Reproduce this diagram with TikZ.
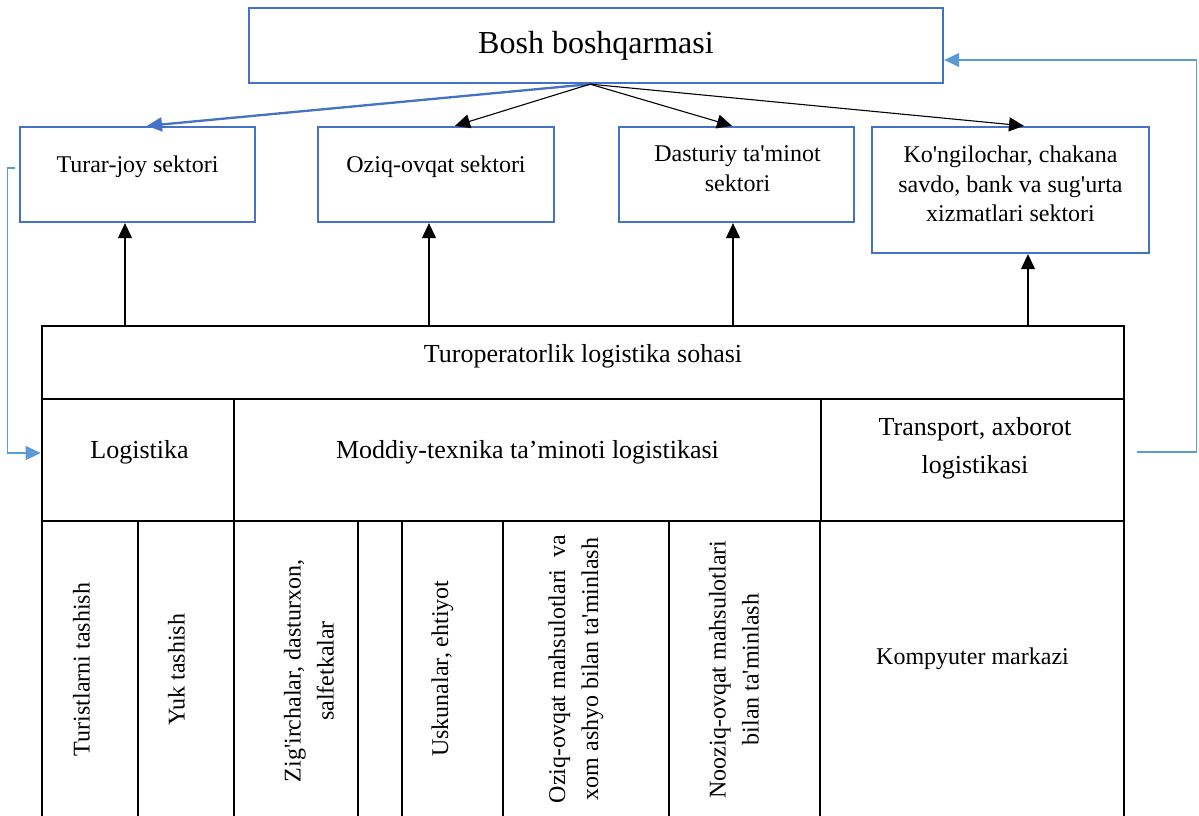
\documentclass[tikz,border=0pt]{standalone}
\usepackage{fontspec}
\setmainfont{Liberation Serif}[Ligatures=TeXOff]
\usetikzlibrary{arrows.meta,calc}
\definecolor{frameblue}{HTML}{4472C4}
\definecolor{linkblue}{HTML}{5B9BD5}

\begin{document}
\begin{tikzpicture}[x=1pt,y=-1pt,
  bluebox/.style={draw=frameblue,line width=2.3pt,inner sep=0pt},
  cell/.style={draw=black,line width=2.6pt,inner sep=0pt},
  stxt/.style={font=\fontsize{24}{29.5}\selectfont,align=center,inner sep=0pt},
  ttxt/.style={font=\fontsize{26}{38}\selectfont,align=center,inner sep=0pt},
  vtxt/.style={font=\fontsize{24}{33}\selectfont,align=center,inner sep=0pt,rotate=90},
  head/.style={-{Triangle[length=15pt,width=14pt]}},
  blackarrow/.style={head,line width=1.1pt,draw=black},
  bluearrow/.style={head,line width=2.3pt,draw=frameblue},
  linkarrow/.style={head,line width=1.2pt,draw=linkblue},
]
\useasboundingbox (0,0) rectangle (1199,816);

% head office
\node[bluebox,minimum width=694pt,minimum height=75pt,
      font=\fontsize{32}{38}\selectfont] (boss) at (596,45.5) {Bosh boshqarmasi};

% sectors
\node[bluebox,minimum width=235pt,minimum height=95pt]  (s1) at (137.5,174.5) {};
\node[bluebox,minimum width=236pt,minimum height=95pt]  (s2) at (436,174.5) {};
\node[bluebox,minimum width=235pt,minimum height=95pt]  (s3) at (736.5,174.5) {};
\node[bluebox,minimum width=277pt,minimum height=126pt] (s4) at (1010.5,190) {};

\node[stxt,anchor=north] (s1t) at ($(s1.north)+(0,29.6)$) {Turar-joy sektori};
\node[stxt,anchor=north] (s2t) at ($(s2.north)+(0,29.6)$) {Oziq-ovqat sektori};
\node[stxt,anchor=north] (s3t) at ($(s3.north)+(1,19.8)$) {Dasturiy ta'minot\\sektori};
\node[stxt,anchor=north] (s4t) at ($(s4.north)+(0,19.8)$) {Ko'ngilochar, chakana\\savdo, bank va sug'urta\\xizmatlari sektori};

% table: header row
\node[cell,minimum width=1082pt,minimum height=73pt] (tur) at (583,362.5) {};
% second row
\node[cell,minimum width=192pt,minimum height=122pt] (logi)  at (138,460) {};
\node[cell,minimum width=587pt,minimum height=122pt] (modd)  at (527.5,460) {};
\node[cell,minimum width=303pt,minimum height=122pt] (trans) at (972.5,460) {};
% third row
\node[cell,minimum width=96pt, minimum height=309pt] (c1) at (90,675.5) {};
\node[cell,minimum width=96pt, minimum height=309pt] (c2) at (186,675.5) {};
\node[cell,minimum width=124pt,minimum height=309pt] (c3) at (296,675.5) {};
\node[cell,minimum width=44pt, minimum height=309pt] (c4) at (380,675.5) {};
\node[cell,minimum width=101pt,minimum height=309pt] (c5) at (452.5,675.5) {};
\node[cell,minimum width=166pt,minimum height=309pt] (c6) at (586,675.5) {};
\node[cell,minimum width=151pt,minimum height=309pt] (c7) at (744.5,675.5) {};
\node[cell,minimum width=304pt,minimum height=309pt] (c8) at (972,675.5) {};

% table texts
\node[ttxt] (turt)   at ([yshift=6.5pt]tur.center) {Turoperatorlik logistika sohasi};
\node[ttxt] (logit)  at ([xshift=1.5pt,yshift=8pt]logi.center) {Logistika};
\node[ttxt] (moddt)  at ([yshift=8pt]modd.center) {Moddiy-texnika ta’minoti logistikasi};
\node[ttxt] (transt) at ([xshift=2.5pt,yshift=12pt]trans.center) {Transport, axborot\\logistikasi};

\node[vtxt] (v1) at (81.5,669.5) {Turistlarni tashish};
\node[vtxt] (v2) at (176.5,669.5) {Yuk tashish};
\node[vtxt] (v3) at (309,671) {Zig'irchalar, dasturxon,\\salfetkalar};
\node[vtxt] (v5) at (442.5,668.5) {Uskunalar, ehtiyot};
\node[vtxt] (v6) at (576,669) {Oziq-ovqat mahsulotlari\ \ va\\xom ashyo bilan ta'minlash};
\node[vtxt] (v7) at (734,669.5) {Nooziq-ovqat mahsulotlari\\bilan ta'minlash};
\node[stxt] (v8) at (972.5,659) {Kompyuter markazi};

% arrows from the head office to the sectors
\draw[bluearrow]  ([xshift=-6pt]boss.south) -- ([xshift=9.5pt]s1.north);
\draw[blackarrow] ([xshift=-6pt]boss.south) -- ([xshift=19pt]s2.north);
\draw[blackarrow] ([xshift=-6pt]boss.south) -- ([xshift=-4.5pt]s3.north);
\draw[blackarrow] ([xshift=-6pt]boss.south) -- ([xshift=13.5pt]s4.north);

% arrows from the logistics area up to the sectors
\coordinate (a1) at (125,0);
\coordinate (a2) at (429,0);
\coordinate (a3) at (733,0);
\coordinate (a4) at (1028,0);
\draw[blackarrow] (tur.north -| a1) -- (s1.south -| a1);
\draw[blackarrow] (tur.north -| a2) -- (s2.south -| a2);
\draw[blackarrow] (tur.north -| a3) -- (s3.south -| a3);
\draw[blackarrow] (tur.north -| a4) -- (s4.south -| a4);

% feedback links
\draw[linkarrow] ([xshift=-4pt,yshift=6.5pt]s1.west) -- ++(-7,0) |- ([yshift=7pt]logi.west);
\draw[linkarrow] ([xshift=12pt,yshift=8pt]trans.east) -- ++(59,0) |- ([yshift=-14.5pt]boss.east);
\end{tikzpicture}
\end{document}
